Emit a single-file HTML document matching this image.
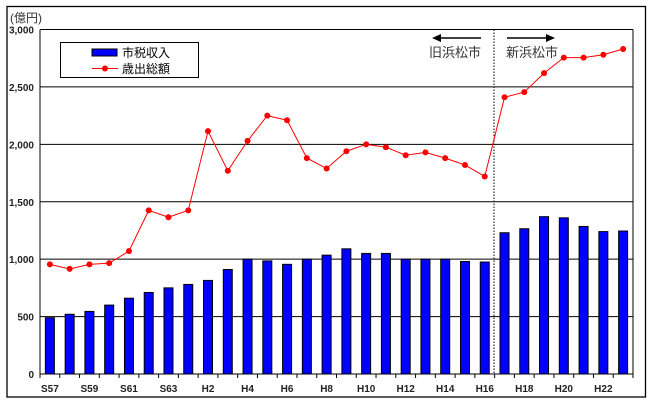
<!DOCTYPE html><html><head><meta charset="utf-8"><style>body{margin:0;background:#fff}svg{display:block}text{font-family:"Liberation Sans","Noto Sans CJK JP",sans-serif}</style></head><body>
<svg width="653" height="404" xmlns="http://www.w3.org/2000/svg" id="s">
<rect x="7" y="6.5" width="638.5" height="390.5" fill="#fff" stroke="#000" stroke-width="1.3"/>
<g id="g"></g>
</svg>
<script>
const L=40,R=633,B=374,T=29.5,N=30,cw=(R-L)/N;
const y=v=>B-(B-T)*v/3000;
const bars=[490,520,545,600,660,710,750,780,815,910,1000,985,955,1000,1035,1090,1050,1050,1000,1000,1000,980,975,1230,1265,1370,1360,1285,1240,1245];
const line=[955,915,955,965,1070,1425,1365,1425,2115,1770,2030,2250,2210,1880,1790,1940,2000,1975,1905,1930,1880,1820,1720,2410,2455,2620,2755,2755,2780,2830];
const labs=["S57","","S59","","S61","","S63","","H2","","H4","","H6","","H8","","H10","","H12","","H14","","H16","","H18","","H20","","H22",""];
let s='';
for(let v=0;v<=3000;v+=500){s+=`<line x1="${L}" x2="${R}" y1="${y(v)}" y2="${y(v)}" stroke="#000" stroke-width="1"/>`;
s+=`<text x="34" y="${y(v)+4}" font-size="10" font-weight="bold" fill="#222" text-anchor="end">${v.toLocaleString('en-US')}</text>`;}
s+=`<line x1="${L}" x2="${L}" y1="${T}" y2="${B}" stroke="#000"/><line x1="${R}" x2="${R}" y1="${T}" y2="${B}" stroke="#000"/>`;
for(let i=0;i<=N;i++){const x=L+cw*i;s+=`<line x1="${x}" x2="${x}" y1="${B}" y2="${B+4}" stroke="#000"/>`;}
bars.forEach((v,i)=>{const cx=L+cw*(i+.5);s+=`<rect x="${cx-4.5}" y="${y(v)}" width="9" height="${B-y(v)}" fill="#0000ff" stroke="#000" stroke-width="1"/>`;
if(labs[i])s+=`<text x="${cx}" y="392" font-size="10" font-weight="bold" fill="#222" text-anchor="middle">${labs[i]}</text>`;});
s+=`<line x1="494" x2="494" y1="${T}" y2="${B}" stroke="#000" stroke-dasharray="1.5,1.5"/>`;
s+=`<polyline fill="none" stroke="#f00" stroke-width="1" points="${line.map((v,i)=>(L+cw*(i+.5))+','+y(v)).join(' ')}"/>`;
line.forEach((v,i)=>{s+=`<circle cx="${L+cw*(i+.5)}" cy="${y(v)}" r="3" fill="#f00"/>`;});
s+=`<text x="10" y="22" font-size="12" fill="#333">(億円)</text>`;
s+=`<rect x="60.5" y="42.5" width="138" height="35" fill="#fff" stroke="#000"/>`;
s+=`<rect x="92" y="49" width="25" height="7" fill="#0000ff" stroke="#000"/><text x="122" y="57" font-size="12" fill="#000">市税収入</text>`;
s+=`<line x1="92" x2="118" y1="68.5" y2="68.5" stroke="#f00"/><circle cx="105" cy="68.5" r="3" fill="#f00"/><text x="122" y="73" font-size="12" fill="#000">歳出総額</text>`;
s+=`<line x1="440" x2="481" y1="38" y2="38" stroke="#000" stroke-width="1.5"/><polygon points="432,38 441,34 441,42" fill="#000"/>`;
s+=`<line x1="507" x2="547" y1="38" y2="38" stroke="#000" stroke-width="1.5"/><polygon points="555,38 546,34 546,42" fill="#000"/>`;
s+=`<text x="429" y="57" font-size="13" fill="#333">旧浜松市</text><text x="506" y="57" font-size="13" fill="#333">新浜松市</text>`;
document.getElementById('g').innerHTML=s;
</script>
</body></html>
